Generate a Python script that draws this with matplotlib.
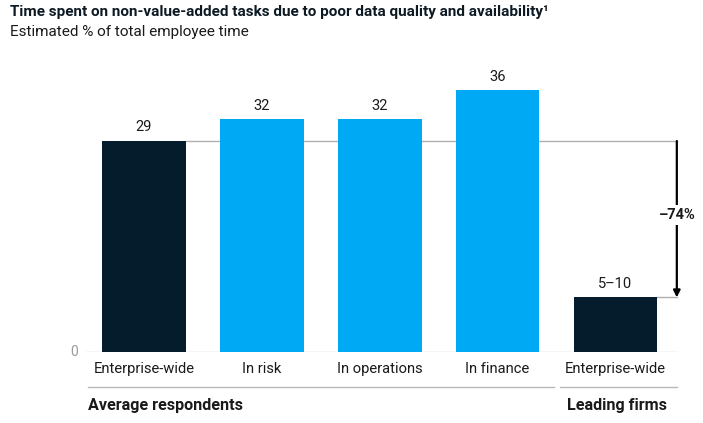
import matplotlib
matplotlib.use("Agg")
import matplotlib.pyplot as plt

plt.rcParams['font.family'] = ['Roboto', 'DejaVu Sans']

categories = ['Enterprise-wide', 'In risk', 'In operations', 'In finance', 'Enterprise-wide']
values = [29, 32, 32, 36, 7.5]
value_labels = ['29', '32', '32', '36', '5–10']
groups = ['Average respondents', 'Leading firms']
change_label = '–74%'

navy = '#051C2C'
blue = '#00A9F4'
colors = [navy, blue, blue, blue, navy]

fig = plt.figure(figsize=(7.03, 4.23), dpi=100)
ax = fig.add_axes([86 / 703, 71 / 423, 592 / 703, 291 / 423])

x = list(range(len(categories)))
w = 0.71
ax.bar(x, values, width=w, color=colors, zorder=2)
ax.set_xlim(-0.49, 4.53)
ax.set_ylim(0, 40)
ax.axis('off')

# baseline and zero label
ax.axhline(0, color='#cfcfcf', lw=1, zorder=1)
ax.text(-0.56, 0, '0', ha='right', va='center', fontsize=10, color='#9a9a9a')

# value labels
for xi, v, lab in zip(x, values, value_labels):
    ax.text(xi, v + 0.9, lab, ha='center', va='bottom', fontsize=10.5, color='#1a1a1a')

# category labels
for xi, c in zip(x, categories):
    ax.text(xi, -2.3, c, ha='center', va='center', fontsize=10.6, color='#1a1a1a')

# group lines and labels
ax.plot([-0.475, 3.475], [-4.8, -4.8], color='#b8b8b8', lw=1, clip_on=False)
ax.plot([3.53, 4.525], [-4.8, -4.8], color='#b8b8b8', lw=1, clip_on=False)
ax.text(-0.475, -7.4, groups[0], ha='left', va='center', fontsize=11.6, fontweight='bold', color='#1a1a1a')
ax.text(4.01, -7.4, groups[1], ha='center', va='center', fontsize=11.6, fontweight='bold', color='#1a1a1a')

# reference lines and change arrow
xa = 4.52
ax.plot([0 + w / 2, xa], [values[0], values[0]], color='#b0b0b0', lw=1, clip_on=False, zorder=1)
ax.plot([4 + w / 2, xa], [values[4], values[4]], color='#b0b0b0', lw=1, clip_on=False, zorder=1)
ax.annotate('', xy=(xa, values[4]), xytext=(xa, values[0]),
            arrowprops=dict(arrowstyle='-|>', color='black', lw=1.6, mutation_scale=10,
                            shrinkA=0, shrinkB=0), annotation_clip=False)
ax.text(xa, 18.8, change_label, ha='center', va='center', fontsize=10.5, fontweight='bold',
        color='#1a1a1a', zorder=5,
        bbox=dict(facecolor='white', edgecolor='none', pad=2))

fig.text(10 / 703, 1 - 12 / 423, 'Time spent on non-value-added tasks due to poor data quality and availability¹',
         ha='left', va='center', fontsize=11, fontweight='bold', color='#0d1a24')
fig.text(10 / 703, 1 - 32 / 423, 'Estimated % of total employee time',
         ha='left', va='center', fontsize=11, color='#1a1a1a')

fig.savefig('out.png', dpi=100)
